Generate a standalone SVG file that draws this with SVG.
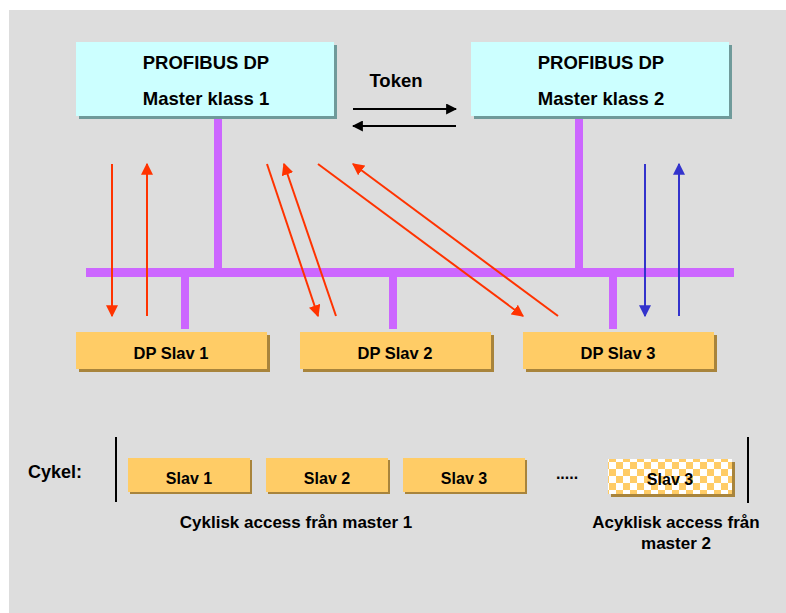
<svg xmlns="http://www.w3.org/2000/svg" width="786" height="613" viewBox="0 0 786 613">
  <defs>
    <style>
      text { font-family: "Liberation Sans", Arial, sans-serif; font-weight: bold; fill: #000; text-anchor: middle; }
      .tm { font-size: 18.5px; }
      .ts { font-size: 16.5px; }
      .tc { font-size: 16px; }
      .tl { font-size: 17px; }
      .master { fill: #CCFFFF; }
      .mshadow { fill: #6F9A9A; }
      .slave { fill: #FFCC66; }
      .sshadow { fill: #A8843C; }
      .bus { fill: #CC66FF; }
      .red { stroke: #FF3300; stroke-width: 2; fill: none; }
      .blue { stroke: #3333CC; stroke-width: 2; fill: none; }
      .blk { stroke: #000; stroke-width: 2; fill: none; }
    </style>
    <marker id="ar" viewBox="0 0 10 10" refX="9" refY="5" markerWidth="6" markerHeight="6" orient="auto" markerUnits="strokeWidth">
      <path d="M0,0 L10,5 L0,10 z" fill="#FF3300"/>
    </marker>
    <marker id="ab" viewBox="0 0 10 10" refX="9" refY="5" markerWidth="6" markerHeight="6" orient="auto" markerUnits="strokeWidth">
      <path d="M0,0 L10,5 L0,10 z" fill="#3333CC"/>
    </marker>
    <marker id="ak" viewBox="0 0 10 10" refX="9" refY="5" markerWidth="5.5" markerHeight="5.5" orient="auto" markerUnits="strokeWidth">
      <path d="M0,0 L10,5 L0,10 z" fill="#000"/>
    </marker>
    <pattern id="check" x="0" y="0" width="14" height="14" patternUnits="userSpaceOnUse">
      <rect width="14" height="14" fill="#FFFFFF"/>
      <rect width="7" height="7" fill="#FFCC66"/>
      <rect x="7" y="7" width="7" height="7" fill="#FFCC66"/>
    </pattern>
  </defs>

  <!-- background panel -->
  <rect x="9" y="10" width="777" height="603" fill="#DDDDDD"/>

  <!-- bus and stubs -->
  <g id="bus">
    <rect class="bus" x="86" y="268" width="648" height="9"/>
    <rect class="bus" x="214" y="116" width="8" height="153"/>
    <rect class="bus" x="575" y="116" width="8" height="153"/>
    <rect class="bus" x="181" y="276" width="8" height="53"/>
    <rect class="bus" x="389" y="276" width="8" height="53"/>
    <rect class="bus" x="609" y="276" width="8" height="53"/>
  </g>

  <!-- masters -->
  <g id="master1">
    <rect class="mshadow" x="79" y="45" width="258" height="74"/>
    <rect class="master" x="76" y="42" width="258" height="74"/>
    <text class="tm" x="206" y="69">PROFIBUS DP</text>
    <text class="tm" x="206" y="105">Master klass 1</text>
  </g>
  <g id="master2">
    <rect class="mshadow" x="474" y="45" width="258" height="74"/>
    <rect class="master" x="471" y="42" width="258" height="74"/>
    <text class="tm" x="601" y="69">PROFIBUS DP</text>
    <text class="tm" x="601" y="105">Master klass 2</text>
  </g>

  <!-- slaves -->
  <g id="slave1">
    <rect class="sshadow" x="79" y="335" width="191" height="37"/>
    <rect class="slave" x="76" y="332" width="191" height="37"/>
    <text class="ts" x="171" y="359">DP Slav 1</text>
  </g>
  <g id="slave2">
    <rect class="sshadow" x="303" y="335" width="191" height="37"/>
    <rect class="slave" x="300" y="332" width="191" height="37"/>
    <text class="ts" x="395" y="359">DP Slav 2</text>
  </g>
  <g id="slave3">
    <rect class="sshadow" x="526" y="335" width="191" height="37"/>
    <rect class="slave" x="523" y="332" width="191" height="37"/>
    <text class="ts" x="618" y="359">DP Slav 3</text>
  </g>

  <!-- token label -->
  <g id="token">
    <text class="tm" x="396" y="87">Token</text>
  </g>

  <!-- message flows -->
  <g id="connectors">
    <line class="blk" x1="353" y1="109" x2="456" y2="109" marker-end="url(#ak)"/>
    <line class="blk" x1="456" y1="126" x2="353" y2="126" marker-end="url(#ak)"/>

    <line class="red" x1="112" y1="164" x2="112" y2="316" marker-end="url(#ar)"/>
    <line class="red" x1="147" y1="316" x2="147" y2="164" marker-end="url(#ar)"/>

    <line class="red" x1="267" y1="164" x2="318" y2="316" marker-end="url(#ar)"/>
    <line class="red" x1="336" y1="316" x2="284" y2="164" marker-end="url(#ar)"/>
    <line class="red" x1="318" y1="164" x2="523" y2="316" marker-end="url(#ar)"/>
    <line class="red" x1="558" y1="316" x2="353" y2="164" marker-end="url(#ar)"/>

    <line class="blue" x1="645" y1="164" x2="645" y2="316" marker-end="url(#ab)"/>
    <line class="blue" x1="679" y1="316" x2="679" y2="164" marker-end="url(#ab)"/>
  </g>

  <!-- cycle timeline -->
  <g id="cycle">
    <text class="tm" x="55" y="478" style="font-size:18px">Cykel:</text>
    <line class="blk" x1="116" y1="437" x2="116" y2="502" stroke-width="2.5"/>
    <line class="blk" x1="748" y1="437" x2="748" y2="503" stroke-width="2.5"/>
  </g>
  <g id="cslave1">
    <rect class="sshadow" x="130" y="460" width="122" height="34"/>
    <rect class="slave" x="128" y="458" width="122" height="34"/>
    <text class="tc" x="189" y="484">Slav 1</text>
  </g>
  <g id="cslave2">
    <rect class="sshadow" x="268" y="460" width="122" height="34"/>
    <rect class="slave" x="266" y="458" width="122" height="34"/>
    <text class="tc" x="327" y="484">Slav 2</text>
  </g>
  <g id="cslave3">
    <rect class="sshadow" x="405" y="460" width="122" height="34"/>
    <rect class="slave" x="403" y="458" width="122" height="34"/>
    <text class="tc" x="464" y="484">Slav 3</text>
  </g>
  <g id="dots">
    <text class="tc" x="567" y="479">.....</text>
  </g>
  <g id="aslave3">
    <rect class="sshadow" x="611" y="462" width="124" height="35"/>
    <rect x="608" y="459" width="124" height="35" fill="url(#check)"/>
    <text class="tc" x="670" y="485">Slav 3</text>
  </g>
  <g id="labels">
    <text class="tl" x="296" y="528">Cyklisk access från master 1</text>
    <text class="tl" x="676" y="528">Acyklisk access från</text>
    <text class="tl" x="676" y="549">master 2</text>
  </g>
</svg>
